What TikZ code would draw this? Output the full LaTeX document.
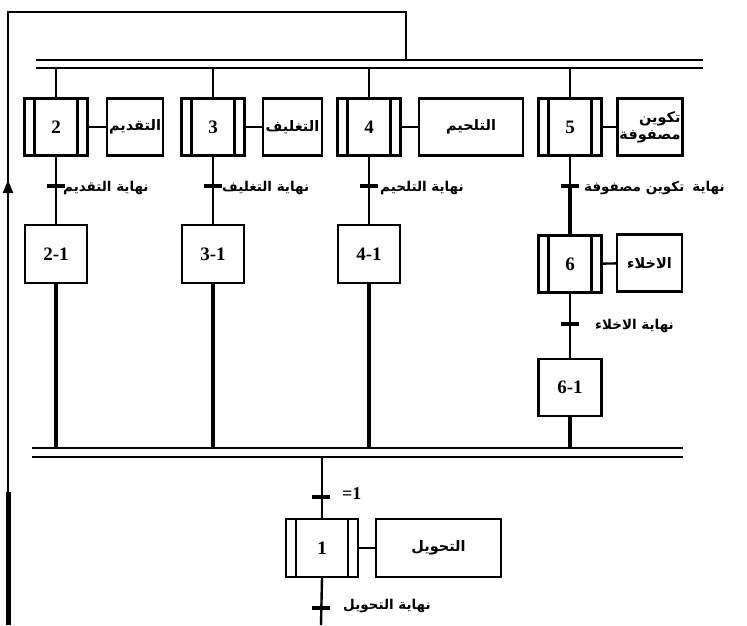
\documentclass[tikz,border=0pt]{standalone}
\usepackage{fontspec}
\setmainfont{Liberation Serif}
\newfontfamily\arabicfont[Script=Arabic]{DejaVu Sans}
\TeXXeTstate=1
\usetikzlibrary{arrows.meta,calc}
\newcommand\artxt[1]{\beginR #1\endR}
\tikzset{
  conn/.style={line width=2.4pt},
  thickc/.style={line width=4.5pt},
  barline/.style={line width=2.8pt},
  stepbox/.style={draw, line width=2.4pt, minimum width=63pt, minimum height=57pt, inner sep=0pt,
    font=\bfseries\fontsize{19}{19}\selectfont,
    path picture={
      \draw[line width=2.2pt] ([xshift=10pt]path picture bounding box.north west) -- ([xshift=10pt]path picture bounding box.south west);
      \draw[line width=2.2pt] ([xshift=-10pt]path picture bounding box.north east) -- ([xshift=-10pt]path picture bounding box.south east);
    }},
  plainbox/.style={draw, line width=2.4pt, minimum width=62pt, minimum height=58pt, inner sep=0pt,
    font=\bfseries\fontsize{19}{19}\selectfont},
  actbox/.style={draw, line width=2.4pt, minimum height=57pt, inner sep=2pt,
    font=\arabicfont\bfseries\fontsize{14.5}{17}\selectfont},
  tk/.style={fill=black, minimum width=18pt, minimum height=3.2pt, inner sep=0pt, draw=none},
  lbl/.style={anchor=west, inner sep=0pt, font=\arabicfont\bfseries\fontsize{13.5}{15}\selectfont},
  numlbl/.style={anchor=west, inner sep=0pt, font=\bfseries\fontsize{18}{18}\selectfont},
}
\begin{document}
\begin{tikzpicture}[x=1pt,y=-1pt]
\useasboundingbox (0,0) rectangle (747,625);
% coordinates
\coordinate (TL) at (8,12);
\coordinate (TR) at (406,12);
\coordinate (TB1L) at (36,60);
\coordinate (TB1R) at (703,60);
\coordinate (TB2L) at (36,68);
\coordinate (TB2R) at (703,68);
\coordinate (BB1L) at (32,448);
\coordinate (BB1R) at (683,448);
\coordinate (BB2L) at (32,457);
\coordinate (BB2R) at (683,457);
\coordinate (BL) at (8,625);
\coordinate (BM) at (8,492);
\coordinate (AR1) at (8,210);
\coordinate (AR2) at (8,180);
\coordinate (BS) at (321,625);

% loop back
\draw[conn] (BL) -- (TL) -- (TR) -- (TR |- TB1L);
\draw[line width=5pt] (BL) -- (BM);
\draw[conn, -{Triangle[length=13pt,width=10pt]}] (AR1) -- (AR2);

% bars
\draw[barline] (TB1L) -- (TB1R);
\draw[barline] (TB2L) -- (TB2R);
\draw[barline] (BB1L) -- (BB1R);
\draw[barline] (BB2L) -- (BB2R);

% steps row
\node[stepbox] (s2) at (56,127) {2};
\node[stepbox] (s3) at (213,127) {3};
\node[stepbox] (s4) at (369,127) {4};
\node[stepbox] (s5) at (570,127) {5};

\node[actbox, minimum width=56pt, inner sep=1pt] (a2) at (135,127) {\artxt{التقديم}};
\node[actbox, minimum width=59pt, inner sep=1pt] (a3) at (292.5,127) {\artxt{التغليف}};
\node[actbox, minimum width=104pt] (a4) at (471,127) {\artxt{التلحيم}};
\node[actbox, minimum width=64pt, align=right] (a5) at (650,127) {\artxt{تكوين}\\\artxt{مصفوفة}};

\foreach \s in {2,3,4,5} { \draw[conn] (s\s) -- (a\s); }
\foreach \s in {2,3,4,5} { \draw[conn] (s\s.north |- TB2L) -- (s\s.north); }

% ticks row 1
\node[tk] (t2) at (56,186) {};
\node[tk] (t3) at (213,186) {};
\node[tk] (t4) at (369,186) {};
\node[tk] (t5) at (570,186) {};

% second row boxes
\node[plainbox] (r2) at (56,254) {2-1};
\node[plainbox] (r3) at (213,254) {3-1};
\node[plainbox] (r4) at (369,254) {4-1};

\foreach \s in {2,3,4} {
  \draw[conn] (s\s.south) -- (r\s.north);
  \draw[thickc] (r\s.south) -- (r\s.south |- BB1L);
}
\foreach \s in {2,3,4} { \node[tk] at (t\s) {}; }

\node[lbl] at (63,188) {\artxt{نهاية التقديم}};
\node[lbl] at (222,188) {\artxt{نهاية التغليف}};
\node[lbl] at (380,188) {\artxt{نهاية التلحيم}};
\node[lbl] at (584,188) {\artxt{نهاية\hspace{8pt}تكوين مصفوفة}};

% column 5
\node[stepbox] (s6) at (570,264) {6};
\node[actbox, minimum width=65pt] (a6) at (649.5,263) {\artxt{الاخلاء}};
\draw[conn] (s6) -- (a6);
\draw[conn] (s5.south) -- (t5.center);
\draw[thickc] (t5.center) -- (s6.north);
\node[tk] at (t5) {};
\node[tk] (t6) at (570,324) {};
\node[plainbox, minimum width=63pt, minimum height=57pt] (r6) at (570,387.5) {6-1};
\draw[conn] (s6.south) -- (r6.north);
\node[tk] at (t6) {};
\draw[thickc] (r6.south) -- (r6.south |- BB1L);
\node[lbl] at (595,326) {\artxt{نهاية الاخلاء}};

% bottom step 1
\node[stepbox, minimum width=72pt, minimum height=58pt] (s1) at (322,548) {1};
\node[actbox, minimum width=125pt, minimum height=58pt] (a1) at (438.5,548) {\artxt{التحويل}};
\draw[conn] (s1) -- (a1);
\node[tk] (t1a) at (321,497) {};
\node[tk] (t1b) at (321,608) {};
\draw[conn] (s1.north |- BB2L) -- (s1.north);
\draw[conn] (s1.south) -- (BS);
\node[tk] at (t1a) {};
\node[tk] at (t1b) {};
\node[numlbl] at (342,494) {=1};
\node[lbl] at (343,606) {\artxt{نهاية التحويل}};
\end{tikzpicture}
\end{document}
